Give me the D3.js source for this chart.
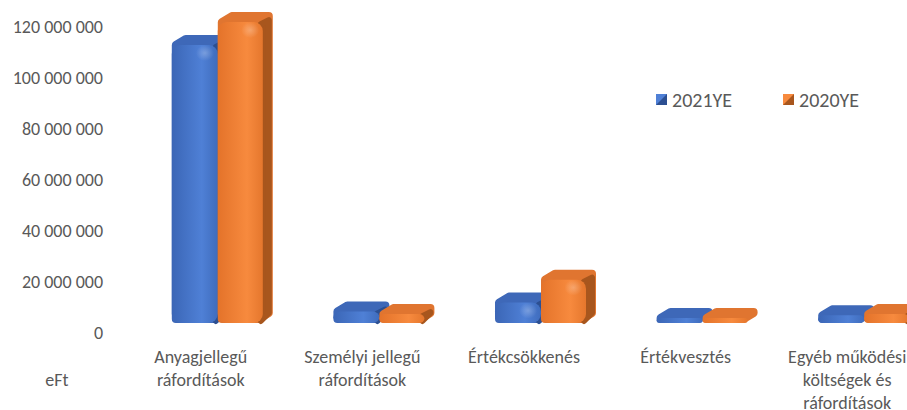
<!DOCTYPE html>
<html>
<head>
<meta charset="utf-8">
<script src="https://cdn.jsdelivr.net/npm/d3@7"></script>
<style>
  body { margin: 0; background: #fff; }
  text { font-family: Carlito, Calibri, Lato, sans-serif; fill: #595959; }
</style>
</head>
<body>
<div id="chart"></div>
<script>
// adatok
var categories = [
  ["Anyagjellegű", "ráfordítások"],
  ["Személyi jellegű", "ráfordítások"],
  ["Értékcsökkenés"],
  ["Értékvesztés"],
  ["Egyéb működési", "költségek és", "ráfordítások"]
];
var series = ["2021YE", "2020YE"];
var values2021 = [109000000, 4500000, 8000000, 500000, 3000000];
var values2020 = [118000000, 3500000, 17000000, 500000, 3500000];
var yTicks = [0, 20000000, 40000000, 60000000, 80000000, 100000000, 120000000];

var width = 907, height = 410;
var depth = 10;

var svg = d3.select("#chart").append("svg")
  .attr("width", width)
  .attr("height", height);

var y = d3.scaleLinear().domain([0, 120000000]).range([333, 27]);
var x = d3.scaleBand().domain(d3.range(categories.length)).range([120, 928]);

var fmt = function(d) { return d3.format(",")(d).replace(/,/g, " "); };

// színek
var colors = {
  "2021YE": { top: "#3e68b8", side: "#2c4f91", l: "#3b66b6", m: "#4f80d6", r: "#3f6cbd" },
  "2020YE": { top: "#e07530", side: "#a8561d", l: "#e4732a", m: "#f78a3e", r: "#e5772d" }
};

var defs = svg.append("defs");
series.forEach(function(s, i) {
  var g = defs.append("linearGradient").attr("id", "grad" + i)
    .attr("x1", "0%").attr("x2", "100%").attr("y1", "0%").attr("y2", "0%");
  g.append("stop").attr("offset", "0%").attr("stop-color", colors[s].l);
  g.append("stop").attr("offset", "65%").attr("stop-color", colors[s].m);
  g.append("stop").attr("offset", "100%").attr("stop-color", colors[s].r);
});
var hl = defs.append("radialGradient").attr("id", "hl");
hl.append("stop").attr("offset", "0%").attr("stop-color", "#fff").attr("stop-opacity", 0.25);
hl.append("stop").attr("offset", "100%").attr("stop-color", "#fff").attr("stop-opacity", 0);

// y tengely feliratai
svg.append("g").selectAll("text")
  .data(yTicks)
  .enter().append("text")
    .attr("x", 103)
    .attr("y", function(d) { return y(d); })
    .attr("dy", "0.35em")
    .attr("text-anchor", "end")
    .style("font-size", "18px")
    .text(fmt);

svg.append("text")
  .attr("x", 57).attr("y", 380).attr("dy", "0.35em")
  .attr("text-anchor", "middle")
  .style("font-size", "18px")
  .text("eFt");

// egy 3D-s oszlop rajzolása
function drawBar(g, x0, w, v, idx, s) {
  var yb = y(0) - 10;
  var yt = Math.min(y(v) - 10, yb - 5);
  var r = 4;
  var c = colors[s];
  // körvonal (tető színével)
  var pts = [[x0 + r, yb - r], [x0 + r, yt], [x0 + depth + r, yt - depth + r],
             [x0 + w + depth - r, yt - depth + r], [x0 + w + depth - r, yb - depth], [x0 + w - r, yb - r]];
  g.append("polygon")
    .attr("points", pts.map(function(p) { return p.join(","); }).join(" "))
    .attr("fill", c.top).attr("stroke", c.top)
    .attr("stroke-width", 2 * r).attr("stroke-linejoin", "round");
  var fh = yb - yt;
  // oldallap
  if (fh > 8) {
    var sp = [[x0 + w - 2, yt + 2], [x0 + w + depth - r, yt - depth + r + 4],
              [x0 + w + depth - r, yb - depth], [x0 + w - 2, yb - 2]];
    g.append("polygon")
      .attr("points", sp.map(function(p) { return p.join(","); }).join(" "))
      .attr("fill", c.side).attr("stroke", c.side)
      .attr("stroke-width", 6).attr("stroke-linejoin", "round");
  }
  // előlap
  var fr = Math.min(9, fh / 2 + 1);
  g.append("rect")
    .attr("x", x0).attr("y", yb - fh)
    .attr("width", w).attr("height", fh)
    .attr("rx", fr).attr("ry", fr)
    .attr("fill", "url(#grad" + idx + ")");
  if (fh > 20) {
    g.append("ellipse")
      .attr("cx", x0 + w * 0.72).attr("cy", yb - fh + 8)
      .attr("rx", 9).attr("ry", 8)
      .attr("fill", "url(#hl)");
  }
}

var bars = svg.append("g");
categories.forEach(function(cat, i) {
  var c = x(i) + x.bandwidth() / 2;
  var g = bars.append("g");
  drawBar(g, c - 29, 46, values2021[i], 0, "2021YE");
  drawBar(g, c + 17, 45, values2020[i], 1, "2020YE");
});

// kategória feliratok
var labels = svg.append("g").selectAll("text")
  .data(categories)
  .enter().append("text")
    .attr("x", function(d, i) { return x(i) + x.bandwidth() / 2; })
    .attr("y", 363)
    .attr("text-anchor", "middle")
    .style("font-size", "18px");
labels.selectAll("tspan")
  .data(function(d) { return d; })
  .enter().append("tspan")
    .attr("x", function() { return d3.select(this.parentNode).attr("x"); })
    .attr("dy", function(d, i) { return i ? 23 : 0; })
    .text(function(d) { return d; });

// jelmagyarázat
var legX = [656, 783];
series.forEach(function(s, i) {
  var lg = svg.append("g").attr("transform", "translate(" + legX[i] + ",94)");
  lg.append("rect").attr("width", 11).attr("height", 11).attr("fill", colors[s].side);
  lg.append("path").attr("d", "M0,0L11,0L0,11Z").attr("fill", colors[s].m);
  lg.append("text").attr("x", 16).attr("y", 6).attr("dy", "0.35em")
    .style("font-size", "20px").text(s);
});
</script>
</body>
</html>
